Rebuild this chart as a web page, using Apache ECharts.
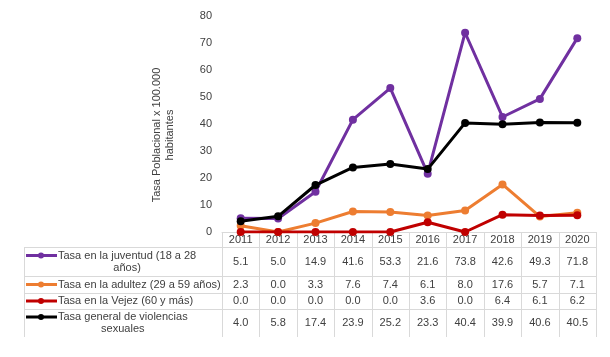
<!DOCTYPE html>
<html>
<head>
<meta charset="utf-8">
<script src="https://cdn.jsdelivr.net/npm/echarts@6/dist/echarts.min.js"></script>
<style>
  html, body { margin: 0; padding: 0; background: #fff; }
  #chart { width: 610px; height: 357px; }
</style>
</head>
<body>
<div id="chart"></div>
<script>
// datos
const years = ['2011', '2012', '2013', '2014', '2015', '2016', '2017', '2018', '2019', '2020'];
const juventud = [5.1, 5.0, 14.9, 41.6, 53.3, 21.6, 73.8, 42.6, 49.3, 71.8];
const adultez = [2.3, 0.0, 3.3, 7.6, 7.4, 6.1, 8.0, 17.6, 5.7, 7.1];
const vejez = [0.0, 0.0, 0.0, 0.0, 0.0, 3.6, 0.0, 6.4, 6.1, 6.2];
const general = [4.0, 5.8, 17.4, 23.9, 25.2, 23.3, 40.4, 39.9, 40.6, 40.5];
const nombres = [
    'Tasa en la juventud (18 a 28\naños)',
    'Tasa en la adultez (29 a 59 años)',
    'Tasa en la Vejez (60 y más)',
    'Tasa general de violencias\nsexuales'
];
const colores = ['#7030A0', '#ED7D31', '#C00000', '#000000'];
const valores = [juventud, adultez, vejez, general];

const font = 'Liberation Sans, Arial, sans-serif';
const txtColor = '#404040';
const lineGray = '#d9d9d9';

// filas de la tabla: [top, bottom]
const filas = [[247, 276], [276, 293], [293, 309], [309, 337]];
const axisY = 232;

let myChart = echarts.init(document.getElementById('chart'));

let xAxes = [{
    type: 'category',
    data: years,
    boundaryGap: true,
    axisLine: { show: true, lineStyle: { color: lineGray } },
    axisTick: { show: false },
    axisLabel: { color: txtColor, fontFamily: font, fontSize: 11, margin: 8, verticalAlign: 'middle' }
}];
valores.forEach(function (arr, k) {
    let centro = (filas[k][0] + filas[k][1]) / 2;
    xAxes.push({
        type: 'category',
        data: arr.map(function (v) { return v.toFixed(1); }),
        position: 'bottom',
        offset: centro - axisY,
        boundaryGap: true,
        axisLine: { show: false },
        axisTick: { show: false },
        axisLabel: { color: txtColor, fontFamily: font, fontSize: 11, margin: 0, verticalAlign: 'middle', interval: 0 }
    });
});

let option = {
    animation: false,
    grid: { left: 222, right: 14, top: 16, bottom: 357 - axisY, containLabel: false },
    xAxis: xAxes,
    yAxis: {
        type: 'value',
        min: 0,
        max: 80,
        interval: 10,
        axisLine: { show: false },
        axisTick: { show: false },
        splitLine: { show: false },
        axisLabel: { color: txtColor, fontFamily: font, fontSize: 11, margin: 10 }
    },
    series: valores.map(function (arr, k) {
        return {
            name: nombres[k],
            type: 'line',
            data: arr,
            xAxisIndex: 0,
            symbol: 'circle',
            symbolSize: 8,
            itemStyle: { color: colores[k] },
            lineStyle: { color: colores[k], width: 3 },
            z: 2 + k
        };
    })
};
myChart.setOption(option);

// tabla de datos (líneas y leyendas)
let centros = years.map(function (y, i) { return myChart.convertToPixel({ xAxisIndex: 0 }, i); });
let banda = centros[1] - centros[0];
let izq = centros[0] - banda / 2;
let der = centros[centros.length - 1] + banda / 2;
let tablaIzq = 24;
let fondo = filas[filas.length - 1][1];

let graficos = [];
// verticales de columnas
for (let i = 0; i <= years.length; i++) {
    let x = Math.round(izq + banda * i) + 0.5;
    graficos.push({ type: 'line', shape: { x1: x, y1: axisY, x2: x, y2: fondo }, style: { stroke: lineGray, lineWidth: 1 }, silent: true });
}
graficos.push({ type: 'line', shape: { x1: tablaIzq + 0.5, y1: filas[0][0], x2: tablaIzq + 0.5, y2: fondo }, style: { stroke: lineGray, lineWidth: 1 }, silent: true });
// horizontales
filas.forEach(function (f) {
    let y = f[0] + 0.5;
    graficos.push({ type: 'line', shape: { x1: tablaIzq, y1: y, x2: der, y2: y }, style: { stroke: lineGray, lineWidth: 1 }, silent: true });
});

// medir texto para centrar la segunda línea bajo la primera
let ctx = document.createElement('canvas').getContext('2d');
ctx.font = '11px ' + font;
const textoIzq = 58;

filas.forEach(function (f, k) {
    let lineas = nombres[k].split('\n');
    let yTop = lineas.length > 1 ? (f[0] + f[1]) / 2 - 6 : (f[0] + f[1]) / 2;
    let ancho = ctx.measureText(lineas[0]).width;
    let cx = textoIzq + ancho / 2;
    graficos.push({ type: 'line', shape: { x1: 26, y1: yTop, x2: 57, y2: yTop }, style: { stroke: colores[k], lineWidth: 3 }, silent: true });
    graficos.push({ type: 'circle', shape: { cx: 41, cy: yTop, r: 3 }, style: { fill: colores[k] }, silent: true });
    lineas.forEach(function (t, j) {
        graficos.push({
            type: 'text',
            x: cx,
            y: yTop + j * 12,
            style: { text: t, fill: txtColor, font: '11px ' + font, textAlign: 'center', textVerticalAlign: 'middle' },
            silent: true
        });
    });
});

// título eje Y
graficos.push({
    type: 'text',
    x: 163,
    y: 135,
    rotation: Math.PI / 2,
    style: {
        text: 'Tasa Poblacional x 100.000\nhabitantes',
        fill: txtColor,
        font: '11px ' + font,
        textAlign: 'center',
        textVerticalAlign: 'middle',
        lineHeight: 13
    },
    silent: true
});

myChart.setOption({ graphic: graficos });

window.addEventListener('resize', function () {
    myChart.resize();
}, false);
</script>
</body>
</html>
